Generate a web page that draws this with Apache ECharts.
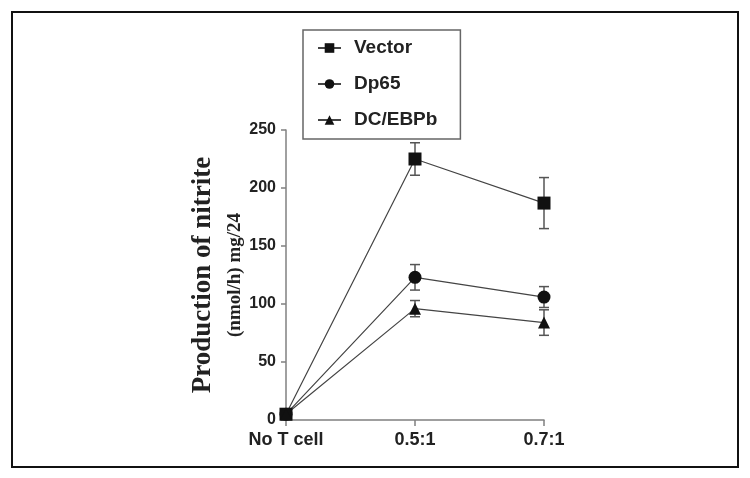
<!DOCTYPE html>
<html>
<head>
<meta charset="utf-8">
<script src="https://cdn.jsdelivr.net/npm/echarts@6/dist/echarts.min.js"></script>
<style>
  html, body { margin: 0; padding: 0; background: #fff; }
  #chart { width: 750px; height: 478px; }
</style>
</head>
<body>
<div id="chart"></div>
<script>
// categories on x axis
var categories = ['No T cell', '0.5:1', '0.7:1'];
var yTicks = [0, 50, 100, 150, 200, 250];

// mean values and error (+/-) per group
var vector = [5, 225, 187];
var vectorErr = [2, 14, 22];
var dp65 = [5, 123, 106];
var dp65Err = [2, 11, 9];
var dcebpb = [5, 96, 84];
var dcebpbErr = [2, 7, 11];

var seriesNames = ['Vector', 'Dp65', 'DC/EBPb'];

function errData(vals, errs) {
    return vals.map(function (v, i) { return [i, v - errs[i], v + errs[i]]; });
}

function errRender(params, api) {
    var x = api.value(0);
    var lo = api.coord([x, api.value(1)]);
    var hi = api.coord([x, api.value(2)]);
    var cap = 5;
    var st = { stroke: '#555', lineWidth: 1.5 };
    return {
        type: 'group',
        children: [
            { type: 'line', shape: { x1: lo[0], y1: lo[1], x2: hi[0], y2: hi[1] }, style: st },
            { type: 'line', shape: { x1: lo[0] - cap, y1: lo[1], x2: lo[0] + cap, y2: lo[1] }, style: st },
            { type: 'line', shape: { x1: hi[0] - cap, y1: hi[1], x2: hi[0] + cap, y2: hi[1] }, style: st }
        ]
    };
}

var lineStyle = { color: '#444', width: 1.2 };
var markColor = '#111';

var chart = echarts.init(document.getElementById('chart'));
chart.setOption({
    animation: false,
    backgroundColor: '#fff',
    graphic: [{
        type: 'rect',
        shape: { x: 12, y: 12, width: 726, height: 455 },
        style: { fill: 'none', stroke: '#111', lineWidth: 2 }
    }],
    legend: {
        data: seriesNames,
        orient: 'vertical',
        left: 303,
        top: 30,
        padding: [8, 23, 9, 14],
        itemGap: 16,
        itemWidth: 23,
        itemHeight: 12,
        borderColor: '#666',
        borderWidth: 1.5,
        textStyle: {
            fontFamily: 'Liberation Sans',
            fontWeight: 'bold',
            fontSize: 19,
            lineHeight: 20,
            color: '#222',
            padding: [0, 0, 0, 8]
        }
    },
    grid: { left: 286, right: 206, top: 130, bottom: 58 },
    xAxis: {
        type: 'category',
        data: categories,
        boundaryGap: false,
        axisLine: { lineStyle: { color: '#808080', width: 1.5 } },
        axisTick: { show: true, length: 6, lineStyle: { color: '#808080', width: 1.5 } },
        axisLabel: {
            fontFamily: 'Liberation Sans',
            fontWeight: 'bold',
            fontSize: 18,
            color: '#222',
            margin: 11
        }
    },
    yAxis: {
        type: 'value',
        min: yTicks[0],
        max: yTicks[yTicks.length - 1],
        interval: 50,
        name: '{a|Production of nitrite}\n{b|(nmol/h) mg/24}',
        nameLocation: 'middle',
        nameGap: 36,
        nameRotate: 90,
        nameTextStyle: {
            rich: {
                a: { fontFamily: 'Liberation Serif', fontWeight: 'bold', fontSize: 27, lineHeight: 34, color: '#222' },
                b: { fontFamily: 'Liberation Serif', fontWeight: 'bold', fontSize: 19, lineHeight: 30, color: '#222' }
            }
        },
        axisLine: { show: true, lineStyle: { color: '#808080', width: 1.5 } },
        axisTick: { show: true, length: 5, lineStyle: { color: '#808080', width: 1.5 } },
        splitLine: { show: false },
        axisLabel: {
            fontFamily: 'Liberation Sans',
            fontWeight: 'bold',
            fontSize: 16,
            color: '#222',
            margin: 10
        }
    },
    series: [
        {
            name: seriesNames[0], type: 'line', data: vector,
            symbol: 'rect', symbolSize: 13,
            lineStyle: lineStyle, itemStyle: { color: markColor }, z: 3
        },
        {
            name: seriesNames[1], type: 'line', data: dp65,
            symbol: 'circle', symbolSize: 13,
            lineStyle: lineStyle, itemStyle: { color: markColor }, z: 3
        },
        {
            name: seriesNames[2], type: 'line', data: dcebpb,
            symbol: 'triangle', symbolSize: 12,
            lineStyle: lineStyle, itemStyle: { color: markColor }, z: 3
        },
        { type: 'custom', renderItem: errRender, data: errData(vector, vectorErr), z: 2 },
        { type: 'custom', renderItem: errRender, data: errData(dp65, dp65Err), z: 2 },
        { type: 'custom', renderItem: errRender, data: errData(dcebpb, dcebpbErr), z: 2 }
    ]
});
</script>
</body>
</html>
